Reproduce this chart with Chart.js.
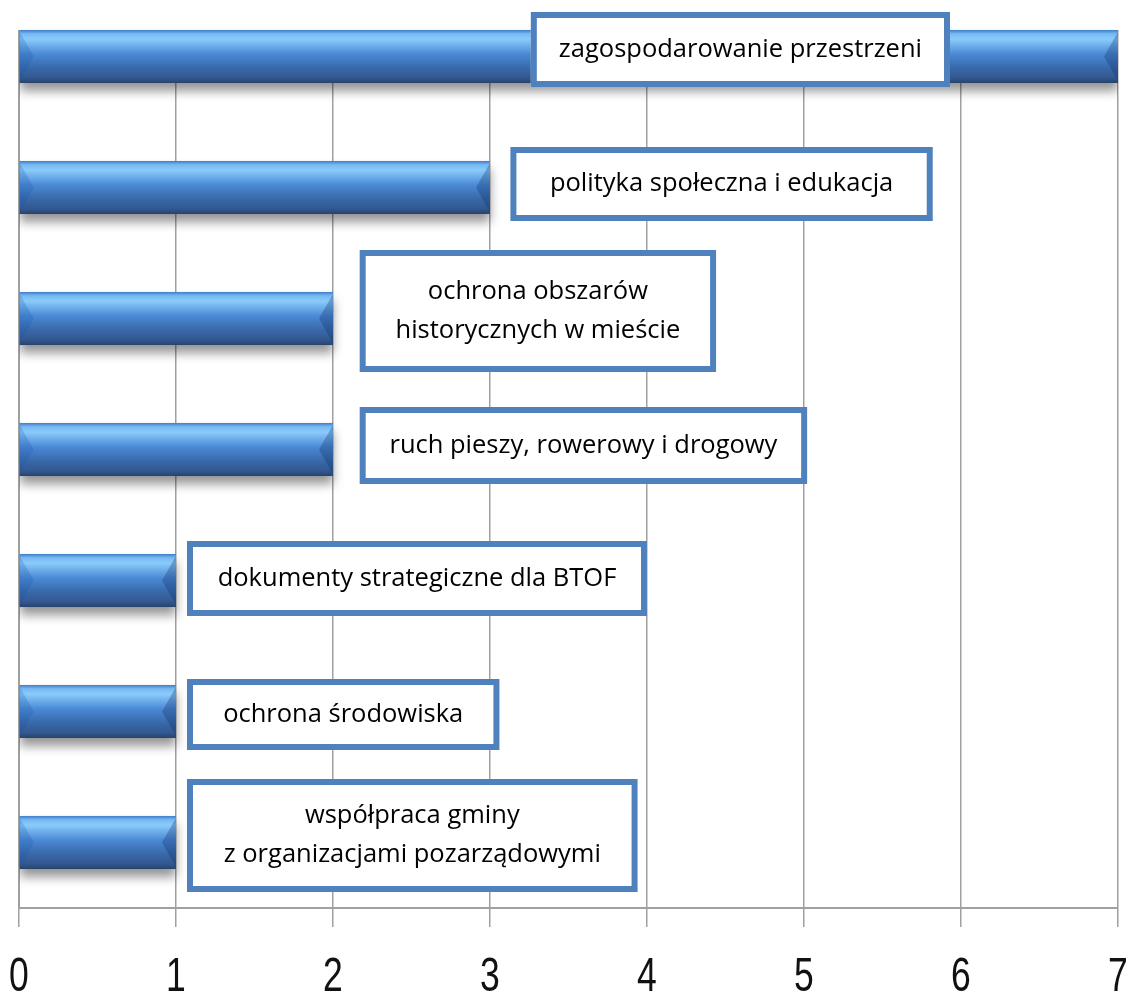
<!DOCTYPE html>
<html>
<head>
<meta charset="utf-8">
<script src="https://cdn.jsdelivr.net/npm/chart.js@4.4.1/dist/chart.umd.min.js"></script>
<style>
  html,body{margin:0;padding:0;background:#fff;overflow:hidden;width:1128px;height:993px;}
  #wrap{position:absolute;left:0;top:-9px;width:1128px;height:1030px;}
</style>
</head>
<body>
<div id="wrap"><canvas id="chart"></canvas></div>
<script>
// ===== dane =====
const categories = [
  ['zagospodarowanie przestrzeni'],
  ['polityka społeczna i edukacja'],
  ['ochrona obszarów', 'historycznych w mieście'],
  ['ruch pieszy, rowerowy i drogowy'],
  ['dokumenty strategiczne dla BTOF'],
  ['ochrona środowiska'],
  ['współpraca gminy', 'z organizacjami pozarządowymi']
];
const values = [7, 3, 2, 2, 1, 1, 1];
const xTicks = [0, 1, 2, 3, 4, 5, 6, 7];

// ramki z podpisami: od/do w jednostkach osi X, przesunięcie i wysokość w px
const boxLayout = [
  {from: 3.26, to: 5.93, dy: -7,   h: 75},
  {from: 3.13, to: 5.82, dy: -3.5, h: 74},
  {from: 2.17, to: 4.44, dy: -7.5, h: 122},
  {from: 2.17, to: 5.02, dy: -4,   h: 77},
  {from: 1.07, to: 4.00, dy: -2,   h: 75},
  {from: 1.07, to: 3.06, dy: 3,    h: 71},
  {from: 1.07, to: 3.94, dy: -7,   h: 113}
];

const GRID = '#a0a0a0', BOX = '#4f81bd';

// wąskie cyfry na osi X (brak kroju "Narrow") - ściśnięcie w poziomie
function narrowLabels(scale, k){
  const orig = scale.drawLabels.bind(scale);
  scale.drawLabels = function(area){
    const ctx = this.ctx, ft = ctx.fillText;
    ctx.fillText = function(t, x, y, w){
      this.save(); this.scale(k, 1); ft.call(this, t, x / k, y, w); this.restore();
    };
    try { orig(area); } finally { ctx.fillText = ft; }
  };
}

// ===== pluginy =====
const barLook = {
  id: 'barLook',
  afterLayout(chart){
    const xs = chart.scales.x;
    if (!xs._narrow){ narrowLabels(xs, 0.74); xs._narrow = true; }
  },
  beforeDatasetsDraw(chart){
    const ctx = chart.ctx, bars = chart.getDatasetMeta(0).data;
    // nad pierwszym słupkiem nie ma siatki
    if (bars.length){
      const p = bars[0].getProps(['y','height'], true);
      ctx.save(); ctx.fillStyle = '#fff';
      ctx.fillRect(0, 0, chart.width, p.y - p.height/2);
      ctx.restore();
    }
    ctx.save();
    ctx.shadowColor = 'rgba(0,0,0,0.42)';
    ctx.shadowBlur = 10;
    ctx.shadowOffsetY = 8;
  },
  afterDatasetsDraw(chart){
    const ctx = chart.ctx;
    ctx.restore();
    chart.getDatasetMeta(0).data.forEach(bar=>{
      const {x, y, base, height} = bar.getProps(['x','y','base','height'], true);
      const top = y - height/2, bot = y + height/2, l = Math.min(x, base), r = Math.max(x, base);
      const g = ctx.createLinearGradient(0, top, 0, bot);
      g.addColorStop(0, '#3f7cc8');
      g.addColorStop(0.07, '#76b8f2');
      g.addColorStop(0.17, '#8bcbfb');
      g.addColorStop(0.45, '#4b8ad6');
      g.addColorStop(0.72, '#3868a8');
      g.addColorStop(0.9, '#335890');
      g.addColorStop(1, '#27436b');
      ctx.save();
      ctx.fillStyle = g;
      ctx.fillRect(l, top, r - l, height);
      const bw = 14;
      // lewy skos
      ctx.fillStyle = 'rgba(25,80,170,0.22)';
      ctx.beginPath(); ctx.moveTo(l, top + 2); ctx.lineTo(l + bw, top + height*0.5); ctx.lineTo(l, bot - 2); ctx.closePath(); ctx.fill();
      // prawy skos
      ctx.fillStyle = 'rgba(15,45,100,0.30)';
      ctx.beginPath(); ctx.moveTo(r, top + 2); ctx.lineTo(r - bw, top + height*0.5); ctx.lineTo(r, bot - 2); ctx.closePath(); ctx.fill();
      ctx.restore();
    });
  },
  afterDraw(chart){
    const ctx = chart.ctx, xs = chart.scales.x, bars = chart.getDatasetMeta(0).data;
    ctx.save();
    ctx.font = '25.5px "Open Sans", "Noto Sans", sans-serif';
    ctx.textAlign = 'center'; ctx.textBaseline = 'middle';
    categories.forEach((lines, i)=>{
      const b = boxLayout[i], cy = bars[i].getProps(['y'], true).y + b.dy;
      const l = xs.getPixelForValue(b.from), r = xs.getPixelForValue(b.to);
      const t = cy - b.h/2;
      ctx.fillStyle = '#fff';
      ctx.fillRect(l, t, r - l, b.h);
      ctx.strokeStyle = BOX; ctx.lineWidth = 6;
      ctx.strokeRect(l + 3, t + 3, r - l - 6, b.h - 6);
      ctx.fillStyle = '#000';
      const lh = 39, cx = (l + r)/2;
      lines.forEach((s, k)=> ctx.fillText(s, cx, cy + (k - (lines.length-1)/2)*lh));
    });
    ctx.restore();
  }
};

// ===== wykres =====
new Chart(document.getElementById('chart'), {
  type: 'bar',
  data: {
    labels: categories.map(c=>c.join(' ')),
    datasets: [{data: values, backgroundColor: '#3a6fb2', borderWidth: 0, barPercentage: 0.405, categoryPercentage: 1}]
  },
  options: {
    indexAxis: 'y', responsive: true, maintainAspectRatio: false, animation: false,
    layout: {padding: {left: 0, right: 10, top: 0, bottom: 0}},
    plugins: {legend: {display: false}, tooltip: {enabled: false}},
    scales: {
      x: {
        min: xTicks[0], max: xTicks[xTicks.length-1],
        afterBuildTicks: s=>{ s.ticks = xTicks.map(v=>({value: v})); },
        afterFit: s=>{ s.height = 113; s.paddingLeft = 0; s.paddingRight = 0; },
        grid: {color: GRID, lineWidth: 1.5, drawTicks: true, tickLength: 19, tickColor: GRID},
        border: {color: GRID, width: 2},
        ticks: {color: '#111', padding: 22, font: {family: '"Liberation Sans"', size: 48}}
      },
      y: {
        afterFit: s=>{ s.width = 19; },
        grid: {display: false},
        border: {display: true, color: GRID, width: 2},
        ticks: {display: false}
      }
    }
  },
  plugins: [barLook]
});
</script>
</body>
</html>
